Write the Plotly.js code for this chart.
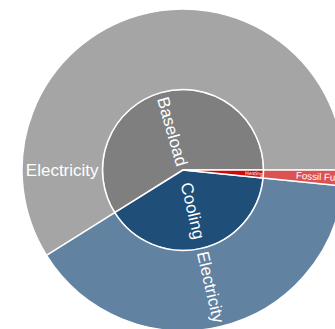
<!DOCTYPE html>
<html>
<head>
<meta charset="utf-8">
<script src="https://cdn.plot.ly/plotly-3.0.1.min.js"></script>
<style>
html,body{margin:0;padding:0;overflow:hidden;background:#fff;}
#chart{width:366px;height:340px;}
</style>
</head>
<body>
<div id="chart"></div>
<script>
const ids = ["Baseload", "Cooling", "Heating", "Baseload-Electricity", "Cooling-Electricity", "Heating-Fossil Fuel"];
const labels = ["Baseload", "Cooling", "Heating", "Electricity", "Electricity", "Fossil Fuel"];
const parents = ["", "", "", "Baseload", "Cooling", "Heating"];
const values = [589, 395, 16, 589, 395, 16];
const colors = ["#7f7f7f", "#1f4e79", "#cc0a0a", "#7f7f7f", "#1f4e79", "#cc0a0a"];

const trace = {
  type: "sunburst",
  ids: ids,
  labels: labels,
  parents: parents,
  values: values,
  branchvalues: "total",
  sort: true,
  rotation: 0,
  insidetextorientation: "radial",
  textfont: {family: "Arial, 'Liberation Sans', sans-serif", size: 17, color: "#ffffff"},
  marker: {colors: colors, line: {color: "#ffffff", width: 1.5}},
  leaf: {opacity: 0.7},
  hoverinfo: "label+value"
};

const layout = {
  width: 366,
  height: 340,
  margin: {t: 9, b: 9, l: 22, r: 22},
  paper_bgcolor: "#ffffff",
  showlegend: false,
  font: {family: "Arial, 'Liberation Sans', sans-serif"}
};

Plotly.newPlot("chart", [trace], layout, {displayModeBar: false, staticPlot: true});
</script>
</body>
</html>
